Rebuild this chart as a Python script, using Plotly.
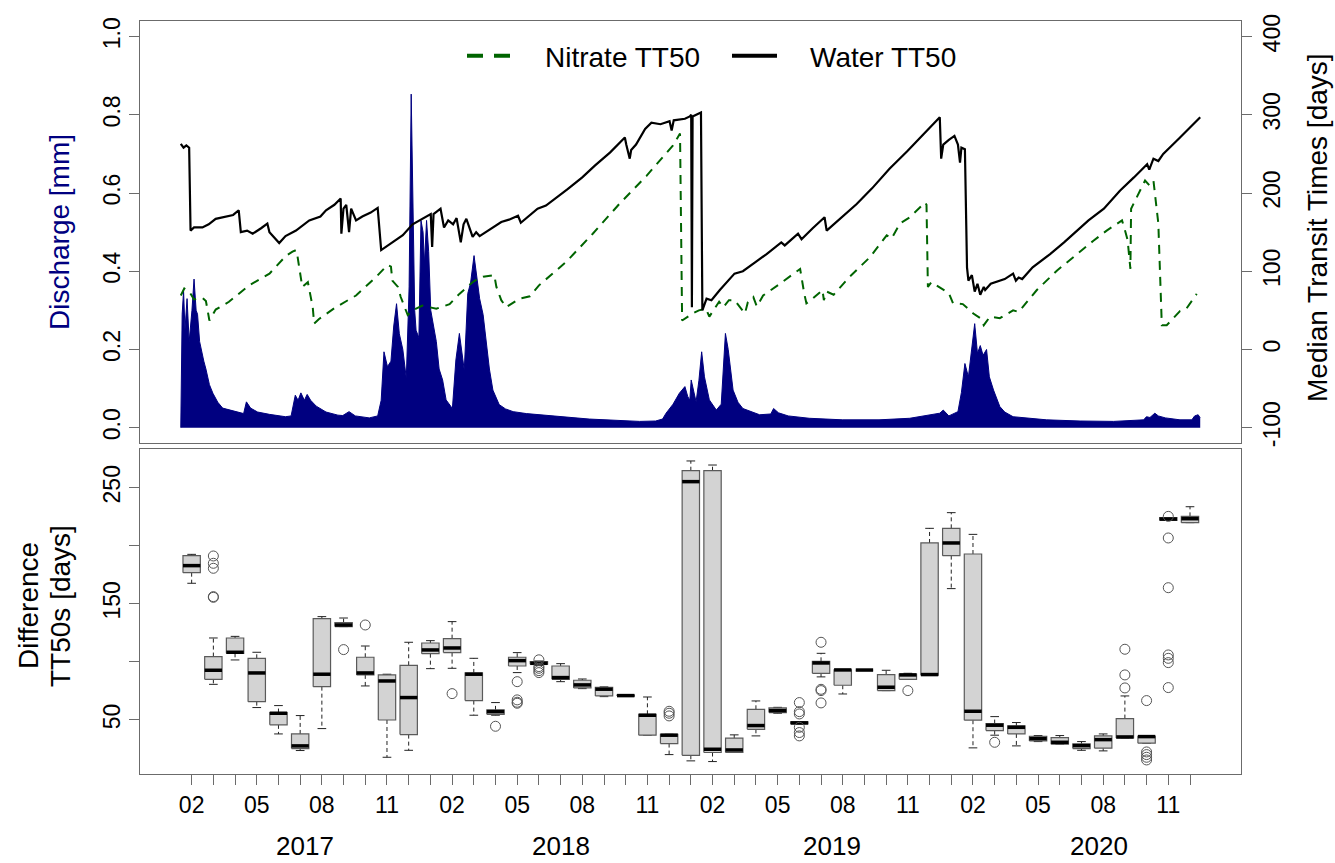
import pandas as pd
import plotly.graph_objects as go

# ---------------- DATA ----------------
START = pd.Timestamp("2017-01-01")
END = pd.Timestamp("2020-12-31")

# Discharge [mm] (days since 2017-01-01, value)
Q_DAYS = [0, 1, 2, 4, 6, 9, 12, 16, 19, 22, 24, 27, 29, 33, 36, 41, 46, 53, 60, 70, 79, 90, 94, 100, 110,
          127, 150, 158, 164, 168, 172, 177, 181, 186, 194, 208, 225, 232, 241, 250, 270, 282, 287, 291, 296,
          301, 305, 309, 313, 318, 323, 327, 330, 332, 335, 337, 341, 344, 347, 349, 352, 355, 358, 366, 370,
          375, 380, 389, 394, 399, 403, 406, 411, 415, 420, 423, 428, 433, 437, 442, 447, 456, 465, 476, 495,
          514, 540, 562, 585, 609, 630, 657, 680, 690, 695, 705, 714, 722, 726, 729, 731, 735, 738, 742, 746,
          750, 757, 767, 774, 780, 784, 791, 798, 805, 829, 845, 849, 856, 870, 900, 948, 1000, 1044, 1087,
          1092, 1100, 1113, 1118, 1123, 1128, 1133, 1137, 1141, 1145, 1149, 1154, 1158, 1164, 1173, 1180,
          1192, 1240, 1288, 1336, 1379, 1383, 1388, 1395, 1400, 1410, 1431, 1448, 1452, 1457, 1460]
Q_VALS = [0.0, 0.15, 0.29, 0.35, 0.25, 0.33, 0.22, 0.30, 0.38, 0.30, 0.29, 0.22, 0.20, 0.17, 0.15, 0.11, 0.088,
          0.065, 0.05, 0.045, 0.041, 0.036, 0.066, 0.05, 0.04, 0.034, 0.028, 0.03, 0.083, 0.07, 0.089, 0.07,
          0.085, 0.07, 0.055, 0.04, 0.032, 0.031, 0.041, 0.03, 0.025, 0.03, 0.07, 0.194, 0.156, 0.17, 0.26,
          0.317, 0.24, 0.20, 0.126, 0.36, 0.853, 0.6, 0.30, 0.249, 0.23, 0.53, 0.50, 0.42, 0.53, 0.45, 0.30,
          0.22, 0.15, 0.122, 0.071, 0.049, 0.173, 0.241, 0.19, 0.147, 0.343, 0.37, 0.44, 0.402, 0.33, 0.289,
          0.22, 0.15, 0.096, 0.059, 0.048, 0.041, 0.036, 0.033, 0.028, 0.024, 0.022, 0.02, 0.018, 0.016, 0.017,
          0.022, 0.037, 0.06, 0.088, 0.105, 0.08, 0.07, 0.122, 0.09, 0.066, 0.12, 0.194, 0.13, 0.071, 0.045,
          0.06, 0.241, 0.2, 0.096, 0.065, 0.049, 0.033, 0.035, 0.049, 0.038, 0.03, 0.024, 0.02, 0.02, 0.024,
          0.037, 0.045, 0.03, 0.041, 0.09, 0.164, 0.13, 0.2, 0.266, 0.19, 0.21, 0.185, 0.2, 0.13, 0.096, 0.054,
          0.04, 0.028, 0.02, 0.017, 0.016, 0.02, 0.028, 0.026, 0.037, 0.03, 0.025, 0.02, 0.02, 0.03, 0.033, 0.025]

# Water TT50 [days]
W_DAYS = [0, 4, 8, 12, 14, 19, 31, 40, 50, 65, 75, 83, 86, 95, 103, 115, 124, 127, 135, 141, 150, 165, 184, 200,
          208, 220, 229, 230, 233, 237, 241, 244, 251, 260, 272, 282, 287, 300, 318, 332, 346, 358, 360, 362,
          372, 377, 383, 390, 395, 401, 405, 409, 418, 423, 428, 437, 450, 459, 470, 483, 487, 498, 511, 523,
          540, 554, 575, 593, 615, 636, 638, 643, 645, 652, 665, 674, 687, 700, 703, 706, 722, 729, 731, 732,
          733, 745, 747, 753, 760, 772, 793, 805, 822, 839, 860, 865, 884, 889, 905, 922, 925, 945, 968, 990,
          1015, 1040, 1063, 1087, 1089, 1092, 1100, 1108, 1113, 1116, 1118, 1123, 1126, 1128, 1133, 1137, 1141,
          1145, 1150, 1152, 1160, 1180, 1192, 1196, 1200, 1205, 1220, 1245, 1265, 1283, 1300, 1322, 1345, 1365,
          1384, 1387, 1393, 1400, 1407, 1430, 1460]
W_VALS = [263, 258, 261, 258, 152, 156, 156, 160, 167, 170, 172, 178, 150, 152, 148, 155, 161, 150, 142, 136, 145,
          152, 165, 170, 178, 185, 193, 148, 180, 185, 150, 180, 165, 170, 175, 181, 127, 135, 146, 160, 167, 173,
          131, 173, 180, 156, 165, 160, 168, 137, 160, 167, 144, 150, 145, 150, 158, 163, 166, 171, 162, 170, 180,
          184, 195, 205, 220, 235, 252, 271, 262, 244, 255, 262, 282, 290, 288, 292, 280, 293, 295, 298, 300, 54,
          298, 303, 50, 65, 63, 76, 97, 100, 111, 122, 137, 133, 148, 141, 155, 169, 152, 168, 186, 206, 231, 253,
          275, 297, 244, 262, 268, 273, 262, 239, 258, 256, 105, 88, 95, 74, 84, 70, 80, 76, 84, 90, 97, 88, 92,
          90, 105, 122, 137, 152, 165, 180, 203, 220, 237, 230, 244, 241, 250, 270, 297]

# Nitrate TT50 [days]
N_DAYS = [0, 5, 12, 19, 31, 36, 41, 50, 69, 98, 127, 151, 160, 165, 167, 174, 182, 189, 191, 198, 222, 251, 280,
          296, 301, 303, 311, 315, 325, 332, 346, 366, 385, 399, 418, 425, 433, 449, 452, 459, 466, 485, 500, 513,
          552, 590, 628, 667, 705, 715, 718, 723, 733, 742, 752, 757, 771, 777, 785, 793, 800, 808, 812, 820, 825,
          834, 858, 884, 887, 893, 896, 905, 919, 921, 925, 935, 958, 987, 1011, 1018, 1030, 1044, 1066, 1068,
          1070, 1075, 1085, 1092, 1100, 1106, 1120, 1135, 1145, 1150, 1159, 1173, 1192, 1200, 1226, 1255, 1283,
          1307, 1326, 1348, 1353, 1356, 1360, 1361, 1381, 1387, 1393, 1400, 1405, 1412, 1431, 1440, 1455]
N_VALS = [69, 78, 74, 64, 66, 62, 37, 51, 61, 82, 97, 120, 125, 127, 120, 80, 86, 54, 33, 39, 54, 69, 93, 108, 106,
          88, 80, 67, 44, 50, 56, 52, 58, 71, 86, 90, 93, 95, 80, 63, 54, 65, 68, 82, 112, 148, 186, 222, 261, 276,
          37, 40, 46, 50, 52, 42, 61, 54, 63, 63, 55, 46, 60, 67, 55, 69, 84, 101, 103, 71, 59, 65, 76, 63, 74, 70,
          93, 118, 146, 142, 161, 169, 188, 185, 80, 86, 80, 76, 72, 59, 58, 46, 40, 31, 42, 40, 50, 48, 76, 101,
          122, 139, 152, 165, 150, 140, 103, 180, 216, 210, 216, 161, 31, 31, 49, 52, 71]

# Monthly boxplots of the TT50 difference [days], Feb 2017 .. Dec 2020
BOX_MONTHS = ["2017-02", "2017-03", "2017-04", "2017-05", "2017-06", "2017-07", "2017-08", "2017-09", "2017-10",
              "2017-11", "2017-12", "2018-01", "2018-02", "2018-03", "2018-04", "2018-05", "2018-06", "2018-07",
              "2018-08", "2018-09", "2018-10", "2018-11", "2018-12", "2019-01", "2019-02", "2019-03", "2019-04",
              "2019-05", "2019-06", "2019-07", "2019-08", "2019-09", "2019-10", "2019-11", "2019-12", "2020-01",
              "2020-02", "2020-03", "2020-04", "2020-05", "2020-06", "2020-07", "2020-08", "2020-09", "2020-10",
              "2020-11", "2020-12"]
BOX_LOW = [167.7, 80.7, 101.7, 60.7, 38.0, 23.7, 42.6, 130.4, 79.3, 17.9, 23.9, 94.2, 94.5, 54.1, 54.1, 90.8, 97.0,
           83.0, 77.0, 70.1, 70.5, 36.9, 20.2, 14.8, 14.2, 22.0, 36.3, 55.8, 46.6, 87.1, 72.4, 92.7, 75.3, 85.0,
           88.5, 163.1, 26.0, 36.9, 27.7, 31.4, 29.1, 23.9, 23.4, 34.6, 30.0, 221.9, 219.9]
BOX_Q1 = [176.8, 85.0, 107.4, 65.8, 45.8, 25.4, 78.7, 130.4, 88.8, 50.0, 37.4, 107.1, 108.0, 66.7, 54.9, 96.5, 98.0,
          85.0, 77.6, 70.7, 70.6, 36.9, 29.7, 19.6, 22.0, 22.0, 42.0, 56.4, 46.6, 90.2, 79.9, 92.8, 75.3, 85.0,
          88.5, 191.5, 49.8, 40.9, 38.0, 32.0, 29.1, 25.4, 25.7, 34.6, 30.0, 221.9, 219.9]
BOX_MED = [182.9, 92.8, 108.3, 90.5, 55.8, 27.7, 89.4, 131.8, 90.5, 83.6, 69.3, 110.3, 112.0, 89.4, 57.2, 101.1,
           98.8, 86.5, 80.2, 76.5, 71.0, 54.1, 36.9, 255.2, 24.8, 24.2, 45.2, 58.1, 47.5, 99.1, 93.1, 93.0, 78.2,
           88.8, 89.1, 202.4, 57.5, 45.5, 43.7, 34.0, 30.8, 27.9, 33.1, 35.4, 35.7, 223.0, 223.3]
BOX_Q3 = [191.5, 104.6, 120.6, 103.1, 56.4, 38.0, 137.3, 133.8, 104.0, 88.8, 97.1, 116.3, 120.0, 90.5, 58.7, 104.0,
          100.3, 96.5, 84.2, 78.2, 71.4, 54.9, 37.7, 264.6, 264.6, 34.3, 59.2, 60.4, 48.3, 100.5, 93.1, 93.2, 89.1,
          89.6, 202.4, 215.0, 192.9, 46.9, 44.9, 36.0, 34.9, 29.4, 36.3, 51.2, 36.0, 224.2, 225.3]
BOX_HIGH = [192.6, 120.6, 122.0, 108.3, 62.4, 53.8, 139.0, 137.8, 113.7, 89.4, 116.9, 118.3, 134.7, 103.1, 65.0,
            108.0, 100.8, 98.5, 85.3, 78.5, 71.5, 69.8, 37.7, 273.0, 269.5, 37.2, 66.4, 60.9, 48.3, 107.4, 93.1,
            93.3, 92.8, 90.2, 215.0, 228.5, 209.8, 52.9, 47.8, 36.6, 36.6, 31.4, 38.0, 70.7, 36.0, 224.2, 233.6]
OUT_MONTH = ["2017-03"] * 5 + ["2017-09", "2017-10", "2018-02", "2018-04"] + ["2018-05"] * 4 + ["2018-06"] * 5 + \
            ["2018-12"] * 3 + ["2019-06"] * 6 + ["2019-07"] * 4 + ["2019-11", "2020-03"] + ["2020-09"] * 3 + \
            ["2020-10"] * 5 + ["2020-11"] * 7
OUT_VALS = [191.2, 184.9, 180.6, 156.2, 155.6, 110.6, 131.8, 72.7, 44.6, 83.0, 67.3, 65.3, 64.4,
            101.8, 96.0, 94.5, 92.5, 90.8, 57.5, 55.8, 53.5, 65.0, 57.2, 55.2, 43.7, 39.2, 36.3,
            116.9, 76.4, 75.3, 64.7, 75.3, 30.8, 110.9, 88.8, 77.6, 66.7, 22.5, 20.2, 17.9, 15.6,
            225.3, 206.7, 163.9, 106.0, 103.1, 99.4, 77.9]

MONTH_LABELS = ["02", "05", "08", "11"]
YEAR_LABELS = ["2017", "2018", "2019", "2020"]
YEAR_AT = [5.2, 17.0, 29.5, 41.8]   # position on the month axis

# ---------------- STYLE ----------------
FONT = "Liberation Sans, Arial, sans-serif"
NAVY = "#000080"
GREEN = "#006400"
FRAME = "#6b6b6b"
W, H = 1335, 863
ML, MR, MT, MB = 140, 94, 21, 89
PW = W - ML - MR
PH = H - MT - MB

def d2t(days):
    return START + pd.to_timedelta(days, unit="D")

def px_x(px):
    return (px - ML) / PW

def px_y(py):
    return (H - MB - py) / PH

fig = go.Figure()

# --- top panel ---
fig.add_trace(go.Scatter(x=d2t(Q_DAYS), y=Q_VALS, mode="lines", fill="tozeroy", fillcolor=NAVY,
                         line=dict(color=NAVY, width=1), xaxis="x", yaxis="y", showlegend=False,
                         hoverinfo="skip"))
fig.add_trace(go.Scatter(x=d2t(N_DAYS), y=N_VALS, mode="lines", line=dict(color=GREEN, width=2, dash="9px,7px"),
                         xaxis="x", yaxis="y2", showlegend=False))
fig.add_trace(go.Scatter(x=d2t(W_DAYS), y=W_VALS, mode="lines", line=dict(color="black", width=2.2),
                         xaxis="x", yaxis="y2", showlegend=False))
# legend entries
SP = "\u2002\u2002"
fig.add_trace(go.Scatter(x=[None], y=[None], mode="lines", name=SP + "Nitrate TT50",
                         line=dict(color=GREEN, width=4, dash="16px,11px"), xaxis="x", yaxis="y2"))
fig.add_trace(go.Scatter(x=[None], y=[None], mode="lines", name=SP + "Water TT50",
                         line=dict(color="black", width=4), xaxis="x", yaxis="y2"))

# --- bottom panel: boxplots built from the quartile arrays ---
pos = list(range(len(BOX_MONTHS)))
hw, sw = 0.4, 0.2
bx, by, wx, wy, sx, sy, mx, my = [], [], [], [], [], [], [], []
for i, (lo, q1, md, q3, hi) in enumerate(zip(BOX_LOW, BOX_Q1, BOX_MED, BOX_Q3, BOX_HIGH)):
    p = pos[i]
    bx += [p - hw, p + hw, p + hw, p - hw, p - hw, None]
    by += [q1, q1, q3, q3, q1, None]
    if hi > q3:
        wx += [p, p, None]; wy += [q3, hi, None]
    if lo < q1:
        wx += [p, p, None]; wy += [q1, lo, None]
    sx += [p - sw, p + sw, None, p - sw, p + sw, None]
    sy += [hi, hi, None, lo, lo, None]
    mx += [p - hw, p + hw, None]
    my += [md, md, None]

fig.add_trace(go.Scatter(x=wx, y=wy, mode="lines", line=dict(color="#222", width=1, dash="4px,3px"),
                         xaxis="x2", yaxis="y3", showlegend=False, hoverinfo="skip"))
fig.add_trace(go.Scatter(x=sx, y=sy, mode="lines", line=dict(color="#222", width=1),
                         xaxis="x2", yaxis="y3", showlegend=False, hoverinfo="skip"))
fig.add_trace(go.Scatter(x=bx, y=by, mode="lines", fill="toself", fillcolor="#D3D3D3",
                         line=dict(color="#5a5a5a", width=1.2), xaxis="x2", yaxis="y3",
                         showlegend=False, hoverinfo="skip"))
fig.add_trace(go.Scatter(x=mx, y=my, mode="lines", line=dict(color="black", width=3.5),
                         xaxis="x2", yaxis="y3", showlegend=False, hoverinfo="skip"))
out_x = [BOX_MONTHS.index(m) for m in OUT_MONTH]
fig.add_trace(go.Scatter(x=out_x, y=OUT_VALS, mode="markers",
                         marker=dict(symbol="circle-open", size=10, color="#555", line=dict(width=1)),
                         xaxis="x2", yaxis="y3", showlegend=False))

# ---------------- LAYOUT ----------------
top_lo = px_y(443.3)
bot_hi = px_y(449.0)
span = pd.Timedelta(days=0.04 * (END - START).days)
tick_font = dict(family=FONT, size=23, color="black")
axis_common = dict(showgrid=False, zeroline=False, showline=True, linecolor=FRAME, linewidth=1,
                   ticks="outside", tickcolor=FRAME, ticklen=10, tickwidth=1, tickfont=tick_font)

xt = [m[-2:] if m[-2:] in MONTH_LABELS else "" for m in BOX_MONTHS]

fig.update_layout(
    width=W, height=H, margin=dict(l=ML, r=MR, t=MT, b=MB, pad=0),
    paper_bgcolor="white", plot_bgcolor="white",
    font=dict(family=FONT, color="black"),
    xaxis=dict(domain=[0, 1], anchor="y", type="date", range=[START - span, END + span],
               showgrid=False, zeroline=False, showline=True, mirror=True, linecolor=FRAME,
               showticklabels=False, ticks=""),
    yaxis=dict(domain=[top_lo, 1], anchor="x", range=[-0.04, 1.04], tickvals=[0, 0.2, 0.4, 0.6, 0.8, 1.0],
               ticktext=["0.0", "0.2", "0.4", "0.6", "0.8", "1.0"], tickangle=-90, mirror=True, **axis_common),
    yaxis2=dict(overlaying="y", side="right", anchor="x", range=[-120, 420],
                tickvals=[-100, 0, 100, 200, 300, 400],
                ticktext=["-100", "0", "100", "200", "300", "400"], tickangle=-90, **axis_common),
    xaxis2=dict(domain=[0, 1], anchor="y3", range=[-2.38, 48.35], tickvals=pos, ticktext=xt,
                tickangle=0, mirror=True, **axis_common),
    yaxis3=dict(domain=[0, bot_hi], anchor="x2", range=[3.5, 283.3], tickvals=[50, 100, 150, 200, 250],
                ticktext=["50", "", "150", "", "250"], tickangle=-90, mirror=True, **axis_common),
    legend=dict(orientation="h", x=px_x(462), xanchor="left",
                y=px_y(56), yanchor="middle", font=dict(family=FONT, size=28),
                bgcolor="rgba(0,0,0,0)", itemwidth=45, entrywidth=205, entrywidthmode="pixels",
                traceorder="normal"),
)

ann = []
def title(text, cx, cy, color="black"):
    ann.append(dict(text=text, x=px_x(cx), y=px_y(cy), xref="paper", yref="paper", xanchor="center",
                    yanchor="middle", textangle=-90, showarrow=False,
                    font=dict(family=FONT, size=28, color=color)))

title("Discharge [mm]", 60, 232, NAVY)
title("Median Transit Times [days]", 1318, 228)
title("Difference", 28, 606)
title("TT50s [days]", 60, 606)
for lab, at in zip(YEAR_LABELS, YEAR_AT):
    ann.append(dict(text=lab, x=at, xref="x2", y=px_y(846), yref="paper", xanchor="center", yanchor="middle",
                    showarrow=False, font=dict(family=FONT, size=26)))
fig.update_layout(annotations=ann)

fig.write_html("out.html", config={"displayModeBar": False},
               post_script="document.body.style.margin='0';document.body.style.overflow='hidden';")
